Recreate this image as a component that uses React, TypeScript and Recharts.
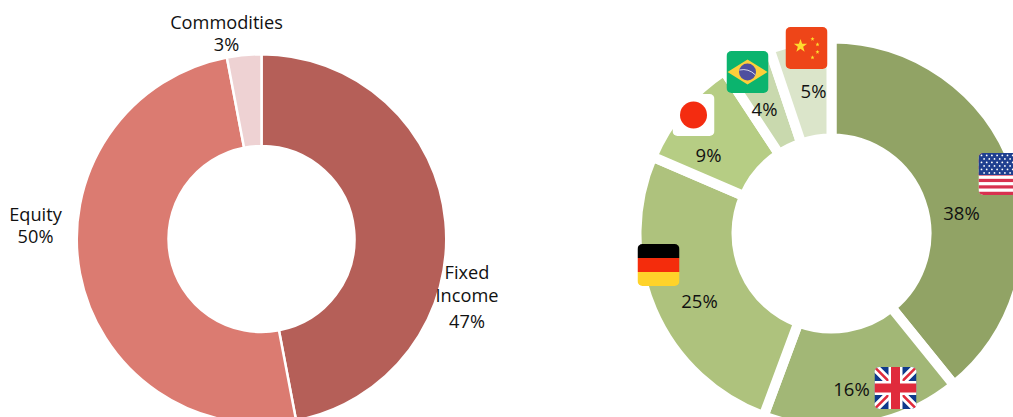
import React from 'react';
import { PieChart, Pie, Cell } from 'recharts';

const assetNames = ['Fixed Income', 'Equity', 'Commodities'];
const assetValues = [47, 50, 3];
const assetColors = ['#b55f58', '#db7b71', '#eed2d3'];

const countryNames = ['USA', 'UK', 'Germany', 'Japan', 'Brazil', 'China'];
const countryValues = [38, 16, 25, 9, 4, 5];
const countryColors = ['#91a365', '#a2b776', '#aec27d', '#b6cd84', '#c9d9ae', '#dbe5ca'];

const assetData = assetNames.map((name, i) => ({ name, value: assetValues[i] }));
const countryData = countryNames.map((name, i) => ({ name, value: countryValues[i] }));

const FONT = '"Open Sans", sans-serif';
const FONT_SIZE = 18.5;
const ASSET_FONT_SIZE = 18.2;
const FLAG_SIZE = 42;

// label offsets from the pie centre
const assetLabelPos = [
  { dx: 205.5, dy: 32.5, lines: ['Fixed', 'Income', '47%'], gaps: [0, 23, 49] },
  { dx: -226, dy: -25.5, lines: ['Equity', '50%'], gaps: [0, 22] },
  { dx: -35, dy: -217, lines: ['Commodities', '3%'], gaps: [0, 22] },
];
const countryLabelPos = [
  { dx: 130, dy: -21.5, flagX: 147, flagY: -80.5 },
  { dx: 20, dy: 154.5, flagX: 43, flagY: 133.5 },
  { dx: -132, dy: 66.5, flagX: -194, flagY: 10.5 },
  { dx: -123, dy: -79.5, flagX: -159, flagY: -139.5 },
  { dx: -67, dy: -125.5, flagX: -105, flagY: -182.5 },
  { dx: -18, dy: -143.5, flagX: -46, flagY: -206.5 },
];

const UsFlag = () => (
  <>
    <rect width={42} height={42} fill="#ffffff" />
    {[0, 1, 2, 3, 4, 5, 6].map((i) => (
      <rect key={i} y={i * 6.46} width={42} height={3.23} fill="#d8314f" />
    ))}
    <rect width={42} height={22} fill="#1f3f8f" />
    {[0, 1, 2, 3, 4, 5].map((r) =>
      [0, 1, 2, 3, 4, 5, 6, 7].map((c) => (
        <circle key={`${r}-${c}`} cx={3 + c * 5.2 + (r % 2) * 2.6} cy={2.4 + r * 3.5} r={0.9} fill="#ffffff" />
      ))
    )}
  </>
);

const UkFlag = () => (
  <>
    <rect width={42} height={42} fill="#0f3a8c" />
    <path d="M0 0L42 42M42 0L0 42" stroke="#ffffff" strokeWidth={8} />
    <path d="M0 0L21 21M42 42L21 21M42 0L21 21M0 42L21 21" stroke="#e02b3c" strokeWidth={2.5} />
    <rect x={14} width={14} height={42} fill="#ffffff" />
    <rect y={14} width={42} height={14} fill="#ffffff" />
    <rect x={16.5} width={9} height={42} fill="#e02b3c" />
    <rect y={16.5} width={42} height={9} fill="#e02b3c" />
  </>
);

const GermanFlag = () => (
  <>
    <rect width={42} height={14} fill="#000000" />
    <rect y={14} width={42} height={14} fill="#f42c0c" />
    <rect y={28} width={42} height={14} fill="#ffd32a" />
  </>
);

const JapanFlag = () => (
  <>
    <rect width={42} height={42} fill="#ffffff" />
    <circle cx={21} cy={21} r={13.5} fill="#f42c10" />
  </>
);

const BrazilFlag = () => (
  <>
    <rect width={42} height={42} fill="#0bb46e" />
    <polygon points="1,21 21,8.5 41,21 21,33.5" fill="#fdcf3a" />
    <circle cx={21} cy={21} r={8.5} fill="#4e4f9f" />
    <path d="M13 19Q22 17 29 24" stroke="#e6e6f0" strokeWidth={0.9} fill="none" />
  </>
);

const star = (x: number, y: number, r: number) => {
  const pts: string[] = [];
  for (let i = 0; i < 10; i++) {
    const a = -Math.PI / 2 + (i * Math.PI) / 5;
    const d = i % 2 === 0 ? r : r * 0.4;
    pts.push(`${x + d * Math.cos(a)},${y + d * Math.sin(a)}`);
  }
  return pts.join(' ');
};

const ChinaFlag = () => (
  <>
    <rect width={42} height={42} fill="#ee4518" />
    <polygon points={star(15, 19, 7)} fill="#fedc2e" />
    <polygon points={star(27, 12, 2.2)} fill="#fedc2e" />
    <polygon points={star(32, 17.5, 2.2)} fill="#fedc2e" />
    <polygon points={star(32, 25, 2.2)} fill="#fedc2e" />
    <polygon points={star(27, 30.5, 2.2)} fill="#fedc2e" />
  </>
);

const flags = [UsFlag, UkFlag, GermanFlag, JapanFlag, BrazilFlag, ChinaFlag];

const renderAssetLabel = (props: any) => {
  const { cx, cy, index } = props;
  const pos = assetLabelPos[index];
  return (
    <text x={cx + pos.dx} y={cy + pos.dy} textAnchor="middle" dominantBaseline="central" fontFamily={FONT} fontSize={ASSET_FONT_SIZE} fill="#111111">
      {pos.lines.map((line, i) => (
        <tspan key={line} x={cx + pos.dx} y={cy + pos.dy + pos.gaps[i]}>
          {line}
        </tspan>
      ))}
    </text>
  );
};

const renderCountryLabel = (props: any) => {
  const { cx, cy, index } = props;
  const pos = countryLabelPos[index];
  const Flag = flags[index];
  const clipId = `flag-clip-${index}`;
  return (
    <g>
      <text x={cx + pos.dx} y={cy + pos.dy} textAnchor="middle" dominantBaseline="central" fontFamily={FONT} fontSize={FONT_SIZE} fill="#111111">
        {countryValues[index]}%
      </text>
      <g transform={`translate(${cx + pos.flagX},${cy + pos.flagY})`}>
        <clipPath id={clipId}>
          <rect width={FLAG_SIZE} height={FLAG_SIZE} rx={5} ry={5} />
        </clipPath>
        <g clipPath={`url(#${clipId})`}>
          <Flag />
        </g>
      </g>
    </g>
  );
};

const App: React.FC = () => {
  return (
    <div style={{ position: 'absolute', left: 0, top: 0, width: 1013, height: 417, overflow: 'hidden', background: '#ffffff' }}>
      <PieChart width={1013} height={417} margin={{ top: 0, right: 0, bottom: 0, left: 0 }}>
        <Pie
          data={assetData}
          dataKey="value"
          cx={261.5}
          cy={239}
          innerRadius={93}
          outerRadius={184.75}
          startAngle={90}
          endAngle={-270}
          stroke="#ffffff"
          strokeWidth={2.5}
          label={renderAssetLabel}
          labelLine={false}
          isAnimationActive={false}
        >
          {assetData.map((d, i) => (
            <Cell key={d.name} fill={assetColors[i]} />
          ))}
        </Pie>
        <Pie
          data={countryData}
          dataKey="value"
          cx={831.5}
          cy={233.5}
          innerRadius={95}
          outerRadius={195}
          startAngle={90}
          endAngle={-270}
          stroke="#ffffff"
          strokeWidth={10}
          label={renderCountryLabel}
          labelLine={false}
          isAnimationActive={false}
        >
          {countryData.map((d, i) => (
            <Cell key={d.name} fill={countryColors[i]} />
          ))}
        </Pie>
      </PieChart>
    </div>
  );
};

export default App;
